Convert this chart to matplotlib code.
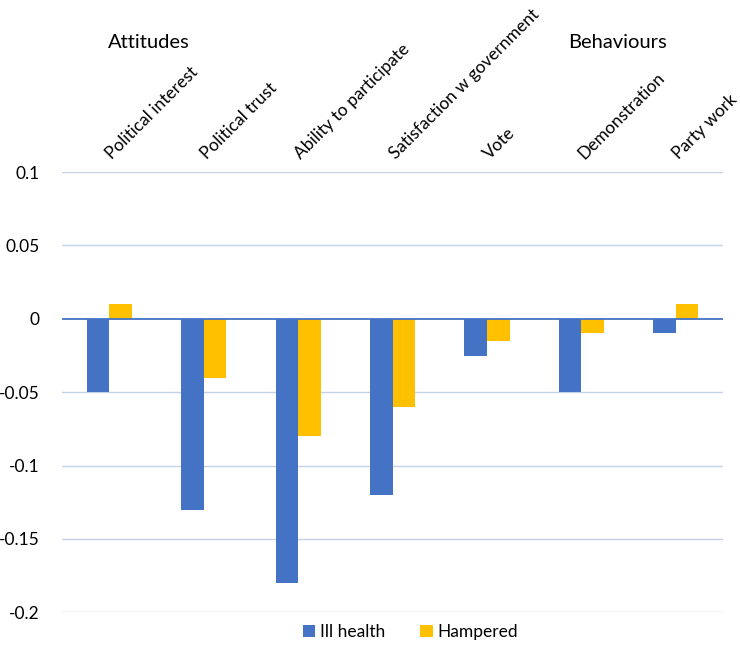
import numpy as np
import matplotlib.pyplot as plt
from matplotlib.transforms import ScaledTranslation

categories = ['Political interest', 'Political trust', 'Ability to participate',
              'Satisfaction w government', 'Vote', 'Demonstration', 'Party work']
ill_health = [-0.05, -0.13, -0.18, -0.12, -0.025, -0.05, -0.01]
hampered = [0.01, -0.04, -0.08, -0.06, -0.015, -0.01, 0.01]
yticks = [-0.2, -0.15, -0.1, -0.05, 0, 0.05, 0.1]
ytick_labels = ['-0.2', '-0.15', '-0.1', '-0.05', '0', '0.05', '0.1']

plt.rcParams['font.family'] = ['Lato', 'DejaVu Sans']

fig = plt.figure(figsize=(7.4, 6.52), dpi=100)
ax = fig.add_axes([0.084, 0.061, 0.893, 0.675])

x = np.arange(len(categories))
w = 0.24
ax.bar(x - w / 2, ill_health, w, color='#4472C4', label='Ill health', zorder=3)
ax.bar(x + w / 2, hampered, w, color='#FFC000', label='Hampered', zorder=3)

ax.set_xlim(-0.5, len(categories) - 0.5)
ax.set_ylim(-0.2, 0.1)
ax.set_yticks(yticks)
ax.set_yticklabels(ytick_labels, fontsize=12.5)
for yv in yticks:
    if yv != 0:
        ax.axhline(yv, color='#C5D0E9', lw=1, zorder=1)
ax.axhline(0, color='#4472C4', lw=1.3, zorder=4)

for s in ax.spines.values():
    s.set_visible(False)
ax.tick_params(axis='y', length=0, pad=16)

ax.xaxis.tick_top()
ax.set_xticks(x)
ax.set_xticklabels(categories, fontsize=12.5, rotation=45, ha='left',
                   rotation_mode='anchor')
ax.tick_params(axis='x', length=0, pad=7)
# nudge the slanted labels a little right, like the original
shift = ScaledTranslation(0.05, 0, fig.dpi_scale_trans)
for lab in ax.get_xticklabels():
    lab.set_transform(lab.get_transform() + shift)

fig.text(0.146, 0.935, 'Attitudes', fontsize=14.5, ha='left', va='center')
fig.text(0.768, 0.935, 'Behaviours', fontsize=14.5, ha='left', va='center')

fig.legend(loc='lower center', bbox_to_anchor=(0.555, -0.006), ncol=2, frameon=False,
           fontsize=12.5, handlelength=0.7, handleheight=0.7, handletextpad=0.3,
           columnspacing=2.0)

fig.savefig('out.png', dpi=100)
